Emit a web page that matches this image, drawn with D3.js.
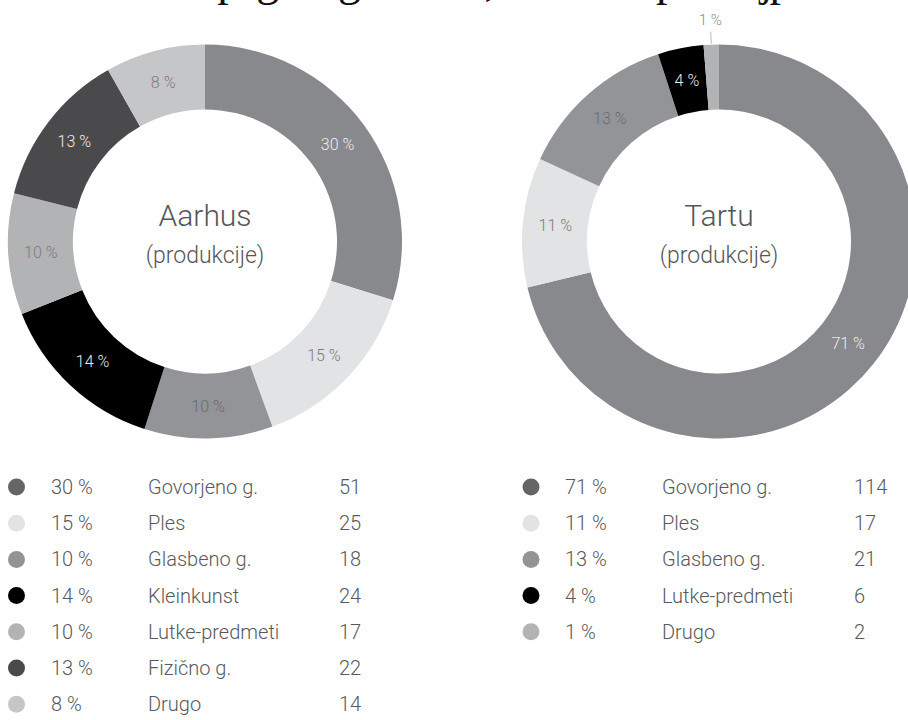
<!DOCTYPE html>
<html>
<head>
<meta charset="utf-8">
<script src="https://cdn.jsdelivr.net/npm/d3@7"></script>
<style>
  body { margin: 0; background: #fff; }
  svg { display: block; }
  .lbl { font-family: Roboto, "Open Sans", sans-serif; font-weight: 300; }
</style>
</head>
<body>
<div id="chart"></div>
<script>
// data
var aarhusCats = ["Govorjeno g.", "Ples", "Glasbeno g.", "Kleinkunst", "Lutke-predmeti", "Fizično g.", "Drugo"];
var aarhusCounts = [51, 25, 18, 24, 17, 22, 14];
var aarhusPct = [30, 15, 10, 14, 10, 13, 8];

var tartuCats = ["Govorjeno g.", "Ples", "Glasbeno g.", "Lutke-predmeti", "Drugo"];
var tartuCounts = [114, 17, 21, 6, 2];
var tartuPct = [71, 11, 13, 4, 1];

var caption = "Zvrstna sestava programa glede na žanr, število in delež produkcij po mestih";

// colours go by position in the ring
var sliceColors = ["#88898c", "#e2e3e4", "#939497", "#000000", "#b1b3b5", "#4a4a4c", "#c5c6c8"];
var dotColors   = ["#646567", "#e2e3e4", "#939497", "#000000", "#b1b3b5", "#4a4a4c", "#c5c6c8"];
var labelColors = ["#ececec", "#7a7b7d", "#6a6b6d", "#ececec", "#7a7b7d", "#ececec", "#7a7b7d"];

var width = 908, height = 720;
var outerR = 197, innerR = 132;

var svg = d3.select("#chart").append("svg")
    .attr("width", width)
    .attr("height", height);

// caption line that sits above the frame, only its descenders show
svg.append("text")
    .attr("x", 40)
    .attr("y", -5)
    .attr("textLength", 850)
    .attr("font-family", "Liberation Serif")
    .attr("font-size", 46)
    .attr("fill", "#111")
    .text(caption);

var pie = d3.pie().sort(null).value(d => d.count);
var arc = d3.arc().innerRadius(innerR).outerRadius(outerR);
var labelArc = d3.arc().innerRadius((innerR + outerR) / 2).outerRadius((innerR + outerR) / 2);

function drawDonut(cx, cy, cats, counts, pcts, name, legend) {
    var data = cats.map((c, i) => ({cat: c, count: counts[i], pct: pcts[i], i: i}));
    var arcs = pie(data);

    var g = svg.append("g")
        .attr("transform", "translate(" + cx + "," + cy + ")");

    g.selectAll("path")
        .data(arcs)
        .enter().append("path")
        .attr("d", arc)
        .attr("fill", d => sliceColors[d.data.i]);

    // percent labels; tiny slices get an outside label with a leader line
    arcs.forEach(function(d) {
        if (d.data.pct >= 3) {
            var p = labelArc.centroid(d);
            g.append("text")
                .attr("class", "lbl")
                .attr("x", p[0])
                .attr("y", p[1])
                .attr("dy", "0.35em")
                .attr("text-anchor", "middle")
                .attr("font-size", 16)
                .attr("fill", labelColors[d.data.i])
                .text(d.data.pct + " %");
        } else {
            var a = (d.startAngle + d.endAngle) / 2;
            var s = Math.sin(a), c = -Math.cos(a);
            g.append("line")
                .attr("x1", s * (outerR + 1)).attr("y1", c * (outerR + 1))
                .attr("x2", s * (outerR + 13)).attr("y2", c * (outerR + 13))
                .attr("stroke", "#bbbbbb");
            g.append("text")
                .attr("class", "lbl")
                .attr("x", s * (outerR + 25))
                .attr("y", c * (outerR + 25))
                .attr("dy", "0.35em")
                .attr("text-anchor", "middle")
                .attr("font-size", 15)
                .attr("fill", "#8a8b8d")
                .text(d.data.pct + " %");
        }
    });

    // centre text
    g.append("text")
        .attr("class", "lbl")
        .attr("y", -16)
        .attr("text-anchor", "middle")
        .attr("font-size", 30)
        .attr("fill", "#555658")
        .text(name);
    g.append("text")
        .attr("class", "lbl")
        .attr("y", 21)
        .attr("text-anchor", "middle")
        .attr("font-size", 23)
        .attr("fill", "#555658")
        .text("(produkcije)");

    // legend
    var rowY = d3.scalePoint()
        .domain(d3.range(7))
        .range([legend.top, legend.top + 6 * legend.step]);

    var rows = svg.append("g").selectAll("g")
        .data(data)
        .enter().append("g")
        .attr("transform", d => "translate(0," + rowY(d.i) + ")");

    rows.append("circle")
        .attr("cx", legend.dot)
        .attr("r", 8.5)
        .attr("fill", d => dotColors[d.i]);

    var cols = [
        {x: legend.pct, f: d => d.pct + " %"},
        {x: legend.cat, f: d => d.cat},
        {x: legend.num, f: d => d.count}
    ];
    cols.forEach(function(col) {
        rows.append("text")
            .attr("class", "lbl")
            .attr("x", col.x)
            .attr("dy", "0.35em")
            .attr("font-size", 20)
            .attr("fill", "#58595b")
            .text(col.f);
    });
}

drawDonut(205, 241.5, aarhusCats, aarhusCounts, aarhusPct, "Aarhus",
    {top: 487, step: 36.2, dot: 16.5, pct: 51, cat: 148, num: 339});
drawDonut(719, 241.5, tartuCats, tartuCounts, tartuPct, "Tartu",
    {top: 487, step: 36.2, dot: 531, pct: 565, cat: 662, num: 854});
</script>
</body>
</html>
